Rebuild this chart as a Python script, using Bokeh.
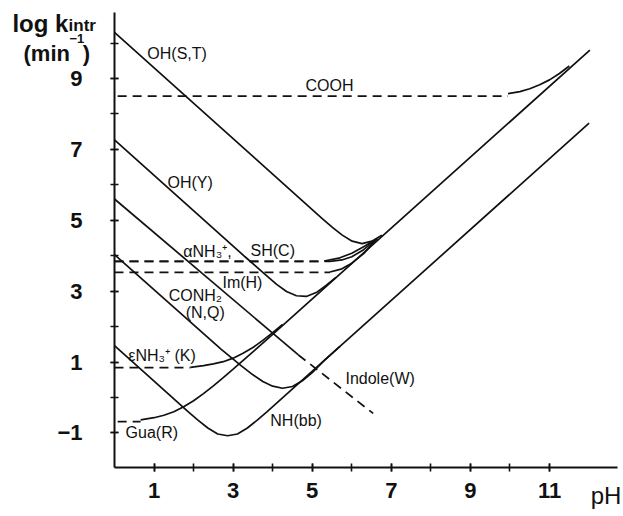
from bokeh.plotting import figure
from bokeh.models import Range1d, FixedTicker, Label
from bokeh.embed import file_html
from bokeh.resources import INLINE

# --- axis ticks -----------------------------------------------------------
x_ticks = [1, 3, 5, 7, 9, 11]
x_minor = [1, 2, 3, 4, 5, 6, 7, 8, 9, 10, 11]
y_ticks = [-1, 1, 3, 5, 7, 9]
y_minor = [-1, 0, 1, 2, 3, 4, 5, 6, 7, 8, 9, 10]
x_axis_span = (0, 12.72)
y_axis_span = (-1.97, 10.85)

# --- curves: pH vs log k_intr --------------------------------------------
# OH(S,T)
oh_st_ph = [0, 4.76, 5.26, 5.51, 5.76, 6.01, 6.26, 6.51, 6.76]
oh_st_k = [10.3, 5.54, 5.04, 4.80, 4.58, 4.41, 4.34, 4.41, 4.58]

# COOH (dashed plateau, then solid rise)
cooh_flat_ph = [0.08, 9.95]
cooh_flat_k = [8.5, 8.5]
cooh_ph = [9.95, 10.25, 10.5, 10.75, 11.0, 11.25, 11.5]
cooh_k = [8.57, 8.63, 8.71, 8.82, 8.96, 9.14, 9.35]

# OH(Y)
oh_y_ph = [0, 3.3, 3.8, 4.1, 4.35, 4.6, 4.85, 5.1, 5.35, 5.6]
oh_y_k = [7.27, 3.97, 3.48, 3.19, 2.99, 2.87, 2.85, 2.96, 3.16, 3.39]

# alpha-NH3+
anh3_flat_ph = [0, 5.3]
anh3_flat_k = [3.84, 3.84]
anh3_ph = [5.3, 5.7, 6.0, 6.3, 6.64]
anh3_k = [3.85, 3.94, 4.07, 4.25, 4.48]

# SH(C)
sh_flat_ph = [0, 5.45]
sh_flat_k = [3.84, 3.84]
sh_ph = [5.45, 5.75, 6.0, 6.3, 6.64]
sh_k = [3.84, 3.88, 3.97, 4.17, 4.48]

# Im(H)
im_flat_ph = [0, 5.45]
im_flat_k = [3.53, 3.53]
im_ph = [5.45, 5.75, 6.0, 6.3, 6.64]
im_k = [3.54, 3.63, 3.79, 4.06, 4.48]

# Indole(W)
indole_ph = [0, 4.65]
indole_k = [5.6, 1.2]
indole_tail_ph = [4.65, 6.54]
indole_tail_k = [1.2, -0.45]

# CONH2(N,Q)
conh2_ph = [0, 2.7, 3.2, 3.5, 3.75, 4.0, 4.25, 4.5, 4.75, 5.0, 5.3, 5.7]
conh2_k = [4.03, 1.36, 0.9, 0.64, 0.45, 0.32, 0.26, 0.31, 0.47, 0.7, 1.04, 1.44]

# eps-NH3+(K)
enh3_flat_ph = [0, 1.92]
enh3_flat_k = [0.84, 0.84]
enh3_ph = [1.92, 2.25, 2.5, 2.75, 3.0, 3.25, 3.5, 3.75, 4.0, 4.25]
enh3_k = [0.85, 0.90, 0.95, 1.01, 1.11, 1.25, 1.41, 1.61, 1.83, 2.06]

# Gua(R)
gua_flat_ph = [0.08, 0.66]
gua_flat_k = [-0.68, -0.68]
gua_ph = [0.66, 1.0, 1.25, 1.5, 1.75, 2.0, 2.25, 2.5, 2.75, 3.0, 3.5, 4.0, 12.02]
gua_k = [-0.63, -0.57, -0.5, -0.4, -0.26, -0.09, 0.11, 0.33, 0.56, 0.8, 1.29, 1.78, 9.8]

# NH(bb)
nh_ph = [0, 1.36, 1.86, 2.11, 2.36, 2.61, 2.86, 3.11, 3.36, 3.61, 3.86, 4.36, 12.0]
nh_k = [1.46, 0.1, -0.4, -0.64, -0.86, -1.03, -1.08, -1.03, -0.86, -0.64, -0.4, 0.1, 7.74]

# --- curve labels ----------------------------------------------------------
label_text = ["OH(S,T)", "COOH", "OH(Y)", "\u03b1NH\u2083\u207a,", "SH(C)", "Im(H)",
              "CONH\u2082", "(N,Q)", "\u03b5NH\u2083\u207a (K)", "Gua(R)", "NH(bb)", "Indole(W)"]
label_x = [0.83, 4.83, 1.34, 1.74, 3.44, 2.73, 1.37, 1.80, 0.35, 0.28, 3.94, 5.84]
label_y = [9.70, 8.80, 6.06, 4.12, 4.15, 3.24, 2.88, 2.40, 1.18, -0.99, -0.65, 0.54]

FONT = "Liberation Sans"
INK = "#111111"

# the frame fills the whole canvas; the axes sit at pH 0 and at the lower bound
p = figure(width=623, height=516,
           x_range=Range1d(-2.882, 12.870), y_range=Range1d(-3.357, 11.199),
           min_border_left=0, min_border_right=0,
           min_border_top=0, min_border_bottom=0,
           toolbar_location=None, output_backend="svg")
p.outline_line_color = None
p.grid.visible = False
p.background_fill_color = "white"
p.border_fill_color = "white"

p.xaxis.fixed_location = y_axis_span[0]
p.yaxis.fixed_location = x_axis_span[0]
p.xaxis.bounds = x_axis_span
p.yaxis.bounds = y_axis_span

for ax, ticks, minor in ((p.xaxis[0], x_ticks, x_minor), (p.yaxis[0], y_ticks, y_minor)):
    ax.ticker = FixedTicker(ticks=ticks, minor_ticks=minor)
    ax.axis_line_width = 2
    ax.axis_line_color = INK
    ax.major_tick_in = 4
    ax.major_tick_out = 4
    ax.minor_tick_in = 4
    ax.minor_tick_out = 4
    ax.major_tick_line_width = 1.6
    ax.minor_tick_line_width = 1.6
    ax.major_tick_line_color = INK
    ax.minor_tick_line_color = INK
    ax.major_label_text_font = FONT
    ax.major_label_text_font_size = "22px"
    ax.major_label_text_font_style = "bold"
    ax.major_label_text_color = INK
p.xaxis.major_label_standoff = 12
p.yaxis.major_label_standoff = 28
p.yaxis.major_label_overrides = {-1: "\u22121"}

solid = dict(line_color=INK, line_width=1.7)
dashed = dict(line_color=INK, line_width=1.7, line_dash="9 6")

p.line(oh_st_ph, oh_st_k, **solid)
p.line(cooh_flat_ph, cooh_flat_k, **dashed)
p.line(cooh_ph, cooh_k, **solid)
p.line(oh_y_ph, oh_y_k, **solid)
p.line(anh3_flat_ph, anh3_flat_k, **dashed)
p.line(anh3_ph, anh3_k, **solid)
p.line(sh_flat_ph, sh_flat_k, **dashed)
p.line(sh_ph, sh_k, **solid)
p.line(im_flat_ph, im_flat_k, **dashed)
p.line(im_ph, im_k, **solid)
p.line(indole_ph, indole_k, **solid)
p.line(indole_tail_ph, indole_tail_k, **dashed)
p.line(conh2_ph, conh2_k, **solid)
p.line(enh3_flat_ph, enh3_flat_k, **dashed)
p.line(enh3_ph, enh3_k, **solid)
p.line(gua_flat_ph, gua_flat_k, **dashed)
p.line(gua_ph, gua_k, **solid)
p.line(nh_ph, nh_k, **solid)

for t, x, y in zip(label_text, label_x, label_y):
    p.add_layout(Label(x=x, y=y, text=t, text_font=FONT, text_font_size="16px",
                       text_color=INK, text_align="left", text_baseline="middle"))

# axis titles
p.add_layout(Label(x=-2.58, y=10.55, text="log k", text_font=FONT, text_font_size="24px",
                   text_font_style="bold", text_color=INK, text_baseline="alphabetic"))
p.add_layout(Label(x=-1.16, y=10.49, text="intr", text_font=FONT, text_font_size="17px",
                   text_font_style="bold", text_color=INK, text_baseline="alphabetic"))
p.add_layout(Label(x=-2.30, y=9.70, text="(min", text_font=FONT, text_font_size="22px",
                   text_font_style="bold", text_color=INK, text_baseline="alphabetic"))
p.add_layout(Label(x=-1.14, y=10.13, text="\u22121", text_font=FONT, text_font_size="13px",
                   text_font_style="bold", text_color=INK, text_baseline="alphabetic"))
p.add_layout(Label(x=-0.80, y=9.70, text=")", text_font=FONT, text_font_size="22px",
                   text_font_style="bold", text_color=INK, text_baseline="alphabetic"))
p.add_layout(Label(x=12.04, y=-2.76, text="pH", text_font=FONT, text_font_size="24px",
                   text_color=INK, text_baseline="middle"))

open("out.html", "w").write(file_html(p, INLINE))
